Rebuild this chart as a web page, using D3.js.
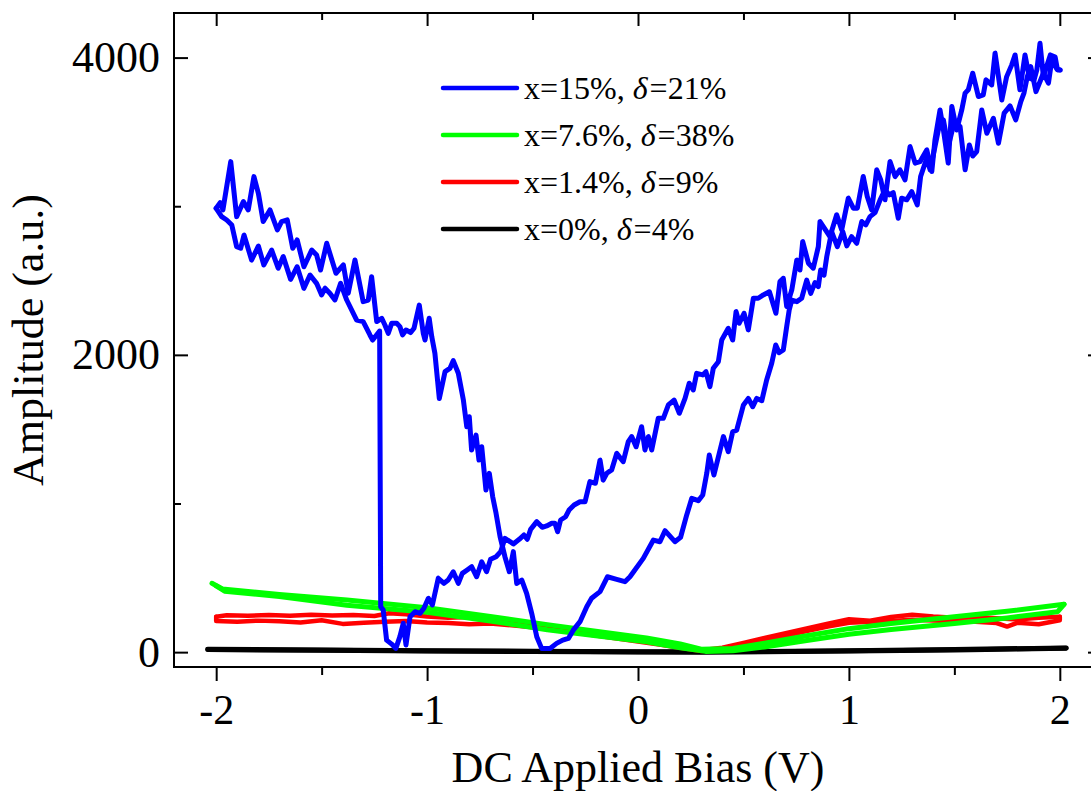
<!DOCTYPE html>
<html><head><meta charset="utf-8">
<script src="https://cdn.jsdelivr.net/npm/d3@7"></script>
<style>
html,body{margin:0;padding:0;background:#fff;}
svg{display:block;}
</style></head>
<body>
<svg id="chart" width="1091" height="791"></svg>
<script>
// ---------- data: [bias (V), amplitude (a.u.)] ----------
const xMajorTicks = [-2, -1, 0, 1, 2];
const xMinorTicks = [-1.5, -0.5, 0.5, 1.5];
const yMajorTicks = [0, 2000, 4000];
const yMinorTicks = [1000, 3000];
const xTitle = "DC Applied Bias (V)";
const yTitle = "Amplitude (a.u.)";
const seriesNames = ["x=15%, |δ|=21%", "x=7.6%, |δ|=38%", "x=1.4%, |δ|=9%", "x=0%, |δ|=4%"];
const seriesColors = ["#0000ff", "#00ff00", "#ff0000", "#000000"];

const blueForward = [[-2.000,2986],[-1.981,3024],[-1.968,2975],[-1.931,3300],[-1.903,2930],[-1.871,3031],[-1.848,2975],[-1.821,3199],[-1.800,3087],[-1.777,2897],[-1.745,2975],[-1.710,2840],[-1.690,2897],[-1.663,2908],[-1.637,2717],[-1.616,2773],[-1.584,2593],[-1.547,2705],[-1.524,2672],[-1.505,2571],[-1.476,2751],[-1.432,2549],[-1.397,2605],[-1.374,2414],[-1.342,2638],[-1.303,2358],[-1.279,2369],[-1.263,2526],[-1.239,2224],[-1.215,2246],[-1.200,2201],[-1.184,2145],[-1.168,2212],[-1.144,2212],[-1.129,2190],[-1.116,2134],[-1.100,2167],[-1.078,2150],[-1.062,2179],[-1.037,2335],[-1.018,2145],[-1.010,2100],[-0.990,2246],[-0.978,2123],[-0.963,2011],[-0.942,1707],[-0.915,1887],[-0.892,1909],[-0.876,1961],[-0.852,1876],[-0.828,1696],[-0.812,1517],[-0.800,1584],[-0.789,1360],[-0.768,1460],[-0.754,1292],[-0.741,1382],[-0.721,1091],[-0.705,1203],[-0.689,1046],[-0.673,934],[-0.654,777],[-0.631,642],[-0.610,541],[-0.591,676],[-0.575,462],[-0.551,485],[-0.528,395],[-0.504,261],[-0.480,104],[-0.457,25],[-0.417,25],[-0.386,59],[-0.357,81],[-0.330,92],[-0.307,148],[-0.275,205],[-0.243,306],[-0.220,362],[-0.180,407],[-0.145,507],[-0.101,490],[-0.062,474],[-0.038,507],[0.025,631],[0.073,754],[0.104,743],[0.128,817],[0.175,743],[0.202,773],[0.231,923],[0.255,1035],[0.286,1019],[0.307,1057],[0.326,1203],[0.338,1326],[0.360,1192],[0.405,1450],[0.428,1349],[0.449,1483],[0.468,1494],[0.500,1663],[0.523,1707],[0.544,1651],[0.563,1707],[0.587,1692],[0.610,1831],[0.634,1944],[0.653,2066],[0.669,2015],[0.689,2033],[0.705,2190],[0.717,2302],[0.729,2369],[0.753,2358],[0.776,2381],[0.800,2503],[0.819,2414],[0.839,2486],[0.855,2459],[0.866,2571],[0.882,2537],[0.895,2661],[0.918,2829],[0.945,2728],[0.971,2829],[0.990,2733],[1.013,2795],[1.037,2751],[1.061,2897],[1.080,2874],[1.100,2930],[1.124,2957],[1.148,3043],[1.171,3110],[1.192,3076],[1.210,3092],[1.234,2919],[1.250,3054],[1.274,3043],[1.298,3098],[1.324,3009],[1.340,3200],[1.369,3323],[1.385,3245],[1.408,3401],[1.424,3513],[1.448,3581],[1.471,3401],[1.498,3558],[1.527,3536],[1.551,3245],[1.571,3412],[1.587,3338],[1.606,3368],[1.630,3648],[1.654,3491],[1.685,3592],[1.709,3424],[1.736,3626],[1.764,3675],[1.791,3581],[1.815,3704],[1.830,3761],[1.846,3872],[1.862,3940],[1.887,3771],[1.922,3895],[1.946,3828],[1.962,3985],[1.986,3922],[2.000,3917]];

const blueReverse = [[2.002,3917],[1.989,3917],[1.978,4003],[1.955,4018],[1.922,3872],[1.906,4097],[1.891,3917],[1.878,3850],[1.856,3862],[1.835,4018],[1.811,3783],[1.788,4018],[1.772,3951],[1.748,3872],[1.725,3715],[1.693,4030],[1.677,3816],[1.650,3850],[1.637,3749],[1.614,3738],[1.587,3895],[1.566,3783],[1.551,3761],[1.535,3648],[1.511,3513],[1.488,3671],[1.471,3290],[1.448,3513],[1.432,3648],[1.408,3446],[1.393,3233],[1.369,3379],[1.337,3300],[1.314,3290],[1.290,3401],[1.266,3177],[1.242,3245],[1.219,3200],[1.195,3300],[1.171,3043],[1.151,3177],[1.132,3245],[1.108,2975],[1.087,3065],[1.068,3200],[1.040,2987],[1.021,2987],[0.997,3054],[0.966,2841],[0.942,2942],[0.910,2795],[0.863,2897],[0.855,2728],[0.831,2583],[0.808,2617],[0.781,2762],[0.768,2571],[0.753,2638],[0.729,2436],[0.705,2325],[0.689,2515],[0.673,2493],[0.654,2280],[0.623,2425],[0.594,2403],[0.570,2381],[0.547,2381],[0.523,2168],[0.503,2280],[0.480,2213],[0.465,2291],[0.449,2100],[0.428,2179],[0.397,2100],[0.381,1954],[0.357,1910],[0.341,1786],[0.322,1887],[0.307,1865],[0.278,1876],[0.262,1764],[0.243,1809],[0.223,1707],[0.196,1607],[0.171,1696],[0.144,1663],[0.120,1573],[0.096,1573],[0.065,1360],[0.049,1450],[0.033,1360],[0.017,1517],[-0.009,1382],[-0.030,1450],[-0.046,1416],[-0.070,1281],[-0.101,1337],[-0.125,1226],[-0.148,1203],[-0.165,1158],[-0.180,1292],[-0.202,1136],[-0.228,1147],[-0.251,1012],[-0.275,1012],[-0.303,990],[-0.327,956],[-0.343,911],[-0.367,889],[-0.381,810],[-0.394,867],[-0.409,867],[-0.433,849],[-0.454,840],[-0.480,878],[-0.509,826],[-0.525,759],[-0.541,788],[-0.563,759],[-0.591,728],[-0.631,766],[-0.651,676],[-0.673,642],[-0.699,625],[-0.718,541],[-0.741,608],[-0.765,507],[-0.789,575],[-0.810,553],[-0.833,530],[-0.852,463],[-0.876,541],[-0.900,485],[-0.920,463],[-0.947,497],[-0.975,317],[-0.994,362],[-1.015,295],[-1.034,261],[-1.057,272],[-1.081,238],[-1.100,48],[-1.113,194],[-1.129,104],[-1.148,25],[-1.168,54],[-1.192,81],[-1.208,283],[-1.220,306],[-1.225,2160],[-1.258,2100],[-1.271,2134],[-1.303,2224],[-1.334,2234],[-1.381,2369],[-1.410,2481],[-1.437,2369],[-1.461,2414],[-1.484,2448],[-1.500,2403],[-1.524,2481],[-1.555,2537],[-1.584,2448],[-1.616,2593],[-1.647,2508],[-1.682,2661],[-1.706,2583],[-1.737,2705],[-1.774,2605],[-1.800,2732],[-1.832,2638],[-1.868,2806],[-1.884,2717],[-1.903,2728],[-1.926,2874],[-1.950,2907],[-1.974,2930],[-2.000,2986]];

const greenUpper = [[-2.02,463],[-1.97,425],[-1.7,388],[-1.38,350],[-1.0,298],[-0.7,240],[-0.43,185],[-0.2,140],[0.04,95],[0.2,55],[0.3,20],[0.45,25],[0.6,60],[0.8,110],[1.0,158],[1.2,192],[1.5,238],[1.75,275],[2.02,322]];
const greenLower = [[-2.0,445],[-1.96,410],[-1.7,375],[-1.38,315],[-1.0,268],[-0.7,210],[-0.43,150],[-0.2,110],[0.04,70],[0.2,30],[0.32,5],[0.45,10],[0.6,35],[0.8,78],[1.0,120],[1.2,152],[1.5,193],[1.75,230],[1.99,272],[2.02,322]];

const redUpper = [[-2.0,238],[-1.95,248],[-1.85,245],[-1.75,250],[-1.65,244],[-1.55,252],[-1.45,246],[-1.35,250],[-1.25,243],[-1.18,262],[-1.1,255],[-1.0,240],[-0.9,232],[-0.8,236],[-0.7,222],[-0.6,205],[-0.5,190],[-0.4,170],[-0.3,148],[-0.2,125],[-0.1,102],[0,82],[0.1,60],[0.2,36],[0.3,12],[0.4,30],[0.5,62],[0.6,95],[0.7,128],[0.8,160],[0.9,192],[1.0,222],[1.1,212],[1.2,236],[1.3,252],[1.4,240],[1.5,232],[1.6,236],[1.7,228],[1.8,220],[1.9,232],[2.0,238]];
const redLower = [[-2.0,238],[-2.0,210],[-1.9,205],[-1.8,212],[-1.7,208],[-1.6,200],[-1.5,214],[-1.4,190],[-1.3,198],[-1.2,205],[-1.1,210],[-1.0,200],[-0.9,196],[-0.8,188],[-0.7,192],[-0.6,180],[-0.5,168],[-0.4,152],[-0.3,132],[-0.2,112],[-0.1,92],[0,72],[0.1,52],[0.2,30],[0.3,8],[0.4,18],[0.5,45],[0.6,78],[0.7,110],[0.8,142],[0.9,172],[1.0,198],[1.1,205],[1.2,210],[1.3,218],[1.4,212],[1.5,208],[1.6,205],[1.7,196],[1.75,172],[1.8,198],[1.9,188],[2.0,215],[2.0,238]];

const blackUpper = [[-2.04,20],[-1.5,15],[-1.0,10],[-0.5,6],[0,3],[0.3,2],[0.6,5],[1.0,10],[1.5,18],[2.03,28]];
const blackLower = [[-2.04,17],[-1.5,12],[-1.0,8],[-0.5,4],[0,1],[0.3,0],[0.6,3],[1.0,8],[1.5,15],[2.03,26]];

// ---------- layout ----------
const svg = d3.select("#chart");
const L = 174, R = 1102, T = 13, B = 667;
const x = d3.scaleLinear().domain([-2.2, 2.2]).range([L, R]);
const y = d3.scaleLinear().domain([-100, 4300]).range([B, T]);
const serif = "'Liberation Serif','Times New Roman',Times,serif";

const line = d3.line().x(d => x(d[0])).y(d => y(d[1]));

const plotG = svg.append("g");
function drawSeries(data, color, w) {
  plotG.append("path").datum(data).attr("d", line)
    .attr("fill", "none").attr("stroke", color).attr("stroke-width", w)
    .attr("stroke-linejoin", "round").attr("stroke-linecap", "round");
}
drawSeries(blackUpper, seriesColors[3], 5);
drawSeries(blackLower, seriesColors[3], 5);
drawSeries(redUpper, seriesColors[2], 4.5);
drawSeries(redLower, seriesColors[2], 4.5);
drawSeries(greenUpper, seriesColors[1], 5);
drawSeries(greenLower, seriesColors[1], 5);
drawSeries(blueForward, seriesColors[0], 5);
drawSeries(blueReverse, seriesColors[0], 5);

// ---------- axes ----------
function styleAxis(g) {
  g.selectAll("path.domain").remove();
  g.selectAll("line").attr("stroke", "#000").attr("stroke-width", 2);
}
// bottom (outward)
svg.append("g").attr("transform", `translate(0,${B})`)
  .call(d3.axisBottom(x).tickValues(xMajorTicks).tickSize(14).tickFormat(d3.format("d")))
  .call(styleAxis)
  .call(g => g.selectAll("text").attr("font-family", serif).attr("font-size", 42)
        .attr("fill", "#000").attr("dy", null).attr("y", 57)
        .text(d => d < 0 ? "-" + Math.abs(d) : d));
svg.append("g").attr("transform", `translate(0,${B})`)
  .call(d3.axisBottom(x).tickValues(xMinorTicks).tickSize(8).tickFormat(""))
  .call(styleAxis);
// top (inward)
svg.append("g").attr("transform", `translate(0,${T})`)
  .call(d3.axisBottom(x).tickValues(xMajorTicks).tickSize(13).tickFormat(""))
  .call(styleAxis);
svg.append("g").attr("transform", `translate(0,${T})`)
  .call(d3.axisBottom(x).tickValues(xMinorTicks).tickSize(7).tickFormat(""))
  .call(styleAxis);
// left (inward ticks, labels outside)
svg.append("g").attr("transform", `translate(${L},0)`)
  .call(d3.axisRight(y).tickValues(yMajorTicks).tickSize(14).tickFormat(""))
  .call(styleAxis);
svg.append("g").attr("transform", `translate(${L},0)`)
  .call(d3.axisRight(y).tickValues(yMinorTicks).tickSize(7).tickFormat(""))
  .call(styleAxis);
svg.append("g").attr("transform", `translate(${L},0)`)
  .call(d3.axisLeft(y).tickValues(yMajorTicks).tickSize(0).tickPadding(14).tickFormat(d3.format("d")))
  .call(styleAxis)
  .call(g => g.selectAll("text").attr("font-family", serif).attr("font-size", 44).attr("fill", "#000"));
// right (inward)
svg.append("g").attr("transform", `translate(${R},0)`)
  .call(d3.axisLeft(y).tickValues(yMajorTicks).tickSize(14).tickFormat(""))
  .call(styleAxis);
svg.append("g").attr("transform", `translate(${R},0)`)
  .call(d3.axisLeft(y).tickValues(yMinorTicks).tickSize(7).tickFormat(""))
  .call(styleAxis);

// frame
svg.append("rect").attr("x", L).attr("y", T).attr("width", R - L).attr("height", B - T)
  .attr("fill", "none").attr("stroke", "#000").attr("stroke-width", 2);

// titles
svg.append("text").attr("x", (L + R) / 2).attr("y", 782).attr("text-anchor", "middle")
  .attr("font-family", serif).attr("font-size", 44).attr("fill", "#000").text(xTitle);
svg.append("text").attr("transform", `translate(43,${(T + B) / 2}) rotate(-90)`)
  .attr("text-anchor", "middle").attr("font-family", serif).attr("font-size", 44)
  .attr("fill", "#000").text(yTitle);

// legend
const leg = svg.append("g");
seriesNames.forEach((name, i) => {
  const by = 99 + i * 47;
  leg.append("line").attr("x1", 443).attr("x2", 517).attr("y1", by - 11).attr("y2", by - 11)
    .attr("stroke", seriesColors[i]).attr("stroke-width", 4.5).attr("stroke-linecap", "round");
  const parts = name.split("|");
  const t = leg.append("text").attr("x", 524).attr("y", by)
    .attr("font-family", serif).attr("font-size", 32).attr("fill", "#000");
  t.append("tspan").text(parts[0]);
  t.append("tspan").attr("font-style", "italic").text(parts[1]);
  t.append("tspan").attr("dx", 2).text(parts[2]);
});
</script>
</body></html>
